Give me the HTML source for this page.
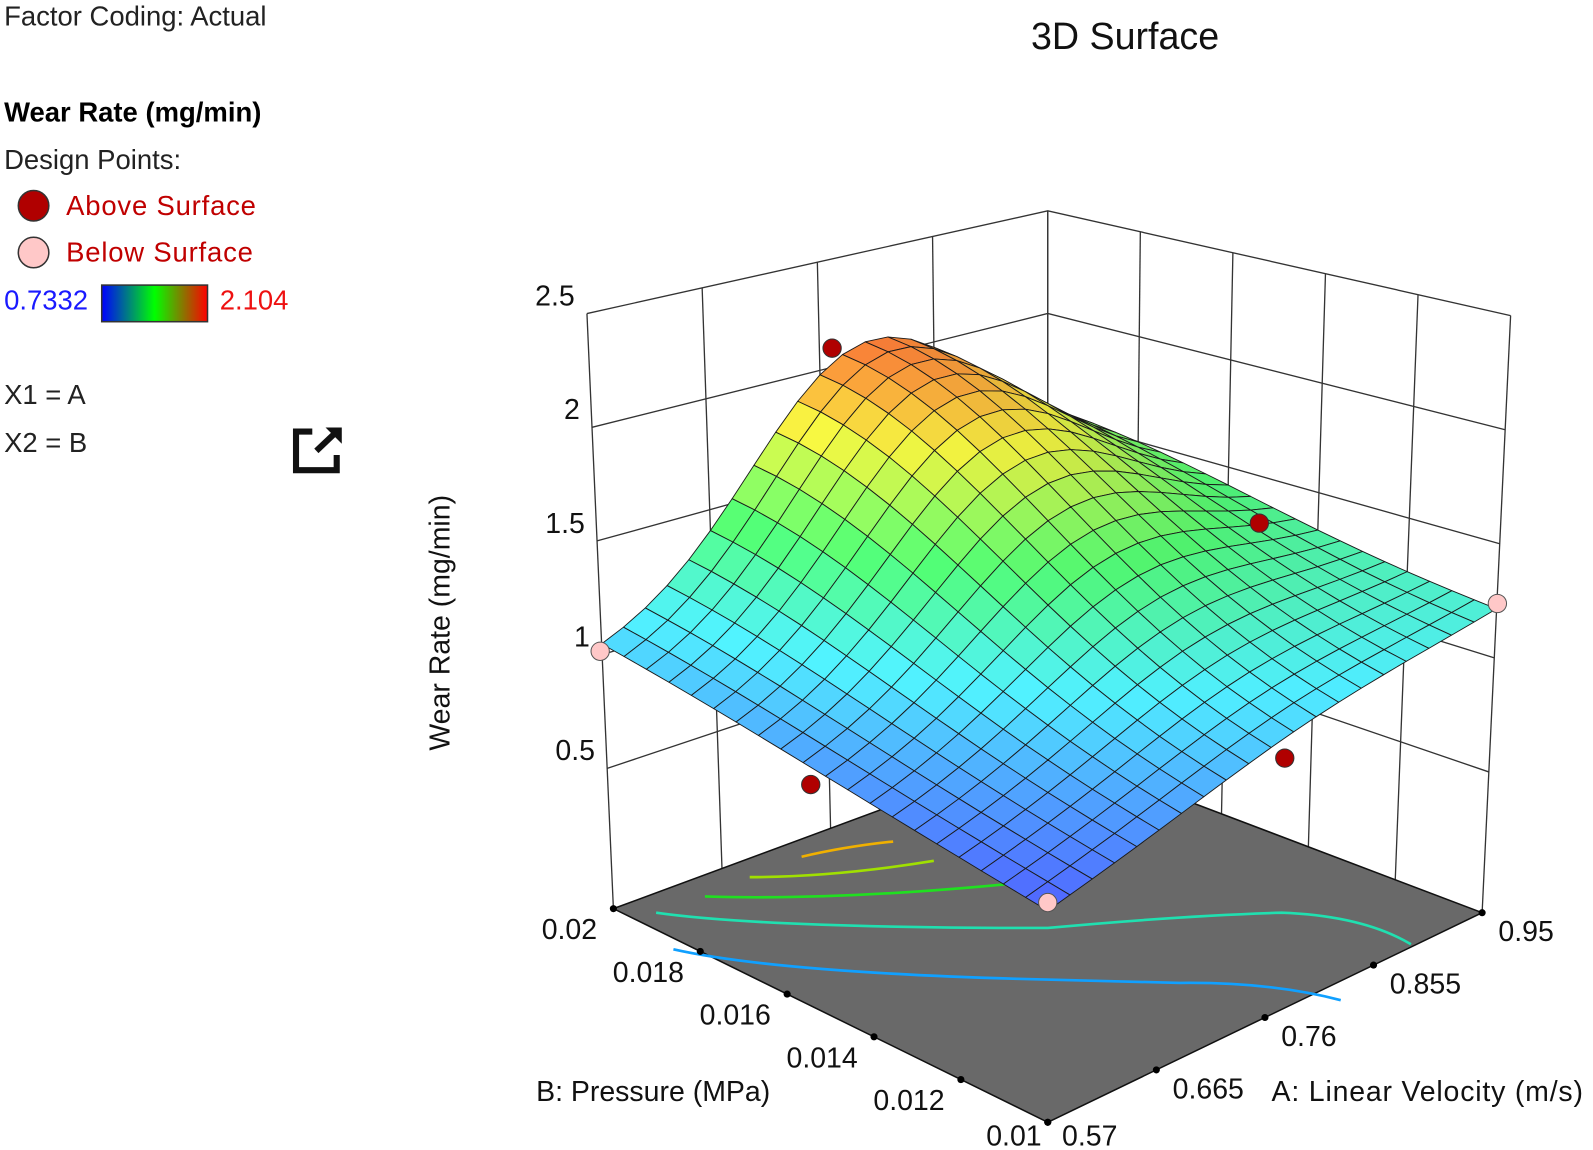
<!DOCTYPE html>
<html><head><meta charset="utf-8"><style>
html,body{margin:0;padding:0;background:#fff;width:1593px;height:1150px;overflow:hidden}
svg{display:block}
text{font-family:"Liberation Sans",sans-serif}
</style></head><body>
<svg id="s" width="1593" height="1150" viewBox="0 0 1566 1130" xmlns="http://www.w3.org/2000/svg">
<g font-size="27">
<text x="4" y="25" fill="#222">Factor Coding: Actual</text>
<text x="4" y="119" fill="#000" font-weight="bold">Wear Rate (mg/min)</text>
<text x="4" y="166" fill="#222">Design Points:</text>
<circle cx="33" cy="202" r="15" fill="#b00000" stroke="#333" stroke-width="1.5"/>
<text x="65" y="211" fill="#c00000" letter-spacing="0.8">Above Surface</text>
<circle cx="33" cy="248" r="15" fill="#ffc8c8" stroke="#333" stroke-width="1.5"/>
<text x="65" y="257" fill="#c00000" letter-spacing="0.8">Below Surface</text>
<text x="4" y="304" fill="#1a1aff">0.7332</text>
<defs><linearGradient id="lg" x1="0" x2="1"><stop offset="0" stop-color="#0000ff"/><stop offset="0.5" stop-color="#00ff00"/><stop offset="1" stop-color="#ff0000"/></linearGradient></defs>
<rect x="100" y="280" width="104" height="36" fill="url(#lg)" stroke="#333" stroke-width="1.5"/>
<text x="216" y="304" fill="#ee1111">2.104</text>
<text x="4" y="397" fill="#222">X1 = A</text>
<text x="4" y="444" fill="#222">X2 = B</text>
</g>
<g stroke="#111" stroke-width="6" fill="none"><path d="M307 424 H291 V462 H331 V447"/><path d="M311 443 L331 424" /></g>
<path d="M320 420 L336 420 L336 436 Z" fill="#111"/>
<text x="1106" y="48" font-size="37" text-anchor="middle" fill="#111">3D Surface</text>
<g id="plot"></g>
</svg>
<script>
var NS="http://www.w3.org/2000/svg",P=document.getElementById('plot');
function el(t,a,txt){var e=document.createElementNS(NS,t);for(var k in a)e.setAttribute(k,a[k]);if(txt!=null)e.textContent=txt;P.appendChild(e);return e;}
var F={f:[1030,1103],r:[1457,897],l:[603,893],b:[1030,735]};
var T={f:[1030,470],r:[1485,310],l:[577,308],b:[1030,207]};
var Z0=-0.117,Z1=2.5;
function bil(a,b,c,d,u,v){return [a[0]*(1-u)*(1-v)+b[0]*u*(1-v)+c[0]*(1-u)*v+d[0]*u*v,a[1]*(1-u)*(1-v)+b[1]*u*(1-v)+c[1]*(1-u)*v+d[1]*u*v];}
function pr(u,v,z){var f=bil(F.f,F.r,F.l,F.b,u,v),t=bil(T.f,T.r,T.l,T.b,u,v),s=(z-Z0)/(Z1-Z0);return [f[0]+(t[0]-f[0])*s,f[1]+(t[1]-f[1])*s];}
function pts(a){return a.map(function(p){return p[0].toFixed(1)+','+p[1].toFixed(1)}).join(' ');}
function fz(u,v){var base=0.74*(1-u)*(1-v)+1.2*u*(1-v)+1.0*(1-u)*v+1.3*u*v;
 var b=0.9*Math.exp(-Math.pow((u-0.6)/0.35,2)-Math.pow((1-v)/0.6,2));return base+b;}
el('polygon',{points:pts([pr(0,1,Z0),pr(1,1,Z0),pr(1,1,Z1),pr(0,1,Z1)]),fill:'#fff'});
var L={stroke:'#333','stroke-width':1.3,fill:'none'};
for(var i=0;i<=4;i++){var u=i/4;var a=pr(u,1,Z0),b=pr(u,1,Z1);el('line',Object.assign({x1:a[0],y1:a[1],x2:b[0],y2:b[1]},L));}
for(var i=0;i<=5;i++){var v=i/5;var a=pr(1,v,Z0),b=pr(1,v,Z1);el('line',Object.assign({x1:a[0],y1:a[1],x2:b[0],y2:b[1]},L));}
[0.5,1,1.5,2,2.5].forEach(function(z){el('polyline',Object.assign({points:pts([pr(0,1,z),pr(1,1,z),pr(1,0,z)])},L));});
el('polygon',{points:pts([pr(0,0,Z0),pr(1,0,Z0),pr(1,1,Z0),pr(0,1,Z0)]),fill:'#696969',stroke:'#111','stroke-width':1.5});
function cp(d,c){el('path',{d:d,stroke:c,'stroke-width':2.6,fill:'none'});}
cp('M788 842 Q830 832 878 827','#f0b000');
cp('M737 862 Q820 862 918 846','#a0e000');
cp('M693 881 Q820 885 990 869','#20e020');
cp('M645 897 Q750 912 1030 912 Q1160 900 1260 897 Q1340 900 1387 928','#20e0b0');
cp('M662 933 Q760 955 1000 962 Q1130 965 1160 966 Q1250 965 1318 983','#10a0ff');
function tk(p,t,dx,dy,anchor){el('circle',{cx:p[0],cy:p[1],r:3.5,fill:'#000'});el('text',{x:p[0]+dx,y:p[1]+dy,'font-size':28,fill:'#111','text-anchor':anchor},t);}
var bl=['0.01','0.012','0.014','0.016','0.018','0.02'];
for(var i=0;i<=5;i++){var p=pr(0,i/5,Z0);tk(p,bl[i],i==0?-6:-16,i==0?23:30,'end');}
var al=['0.57','0.665','0.76','0.855','0.95'];
for(var i=0;i<=4;i++){var p=pr(i/4,0,Z0);tk(p,al[i],i==0?14:16,i==0?23:28,'start');}
el('text',{x:527,y:1082,'font-size':28,fill:'#111'},'B: Pressure (MPa)');
el('text',{x:1250,y:1082,'font-size':28,fill:'#111','letter-spacing':'0.8'},'A: Linear Velocity (m/s)');
[0.5,1,1.5,2,2.5].forEach(function(z){var p=pr(0,1,z);el('text',{x:p[0]-12,y:p[1]-8,'font-size':28,fill:'#111','text-anchor':'end'},String(z));});
el('text',{x:0,y:0,'font-size':28,fill:'#111','text-anchor':'middle',transform:'translate(442,612) rotate(-90)'},'Wear Rate (mg/min)');
var N=20,zmin=0.7332,zmax=2.104;
var st=[[0,[40,60,255]],[0.28,[40,230,255]],[0.52,[40,240,80]],[0.78,[230,230,20]],[1,[245,80,10]]];
function cm(z){var t=Math.max(0,Math.min(1,(z-zmin)/(zmax-zmin)));for(var i=1;i<st.length;i++){if(t<=st[i][0]){var a=st[i-1],b=st[i],k=(t-a[0])/(b[0]-a[0]);return [0,1,2].map(function(j){return a[1][j]+(b[1][j]-a[1][j])*k;});}}return st[st.length-1][1];}
var q=[];for(var i=0;i<N;i++)for(var j=0;j<N;j++)q.push([i,j]);
q.sort(function(a,b){return (b[0]+b[1])-(a[0]+a[1]);});
q.forEach(function(c){var u0=c[0]/N,u1=(c[0]+1)/N,v0=c[1]/N,v1=(c[1]+1)/N;
 var z00=fz(u0,v0),z10=fz(u1,v0),z11=fz(u1,v1),z01=fz(u0,v1);
 var col=cm((z00+z10+z11+z01)/4);
 var sl=(z10-z00+z11-z01)*0.5;var sh=1+Math.max(-0.12,Math.min(0.08,sl*0.5));
 col=col.map(function(x){return Math.round(Math.min(255,(x*0.82+255*0.18)*sh));});
 el('polygon',{points:pts([pr(u0,v0,z00),pr(u1,v0,z10),pr(u1,v1,z11),pr(u0,v1,z01)]),fill:'rgb('+col.join(',')+')',stroke:'#1a1a1a','stroke-width':0.9,'stroke-linejoin':'round'});
});
[[818,342],[1238,514],[797,771],[1263,745]].forEach(function(p){el('circle',{cx:p[0],cy:p[1],r:9,fill:'#b00000',stroke:'#333','stroke-width':1});});
[[590,640],[1030,887],[1472,593]].forEach(function(p){el('circle',{cx:p[0],cy:p[1],r:9,fill:'#ffc8c8',stroke:'#555','stroke-width':1});});
</script>
</body></html>
